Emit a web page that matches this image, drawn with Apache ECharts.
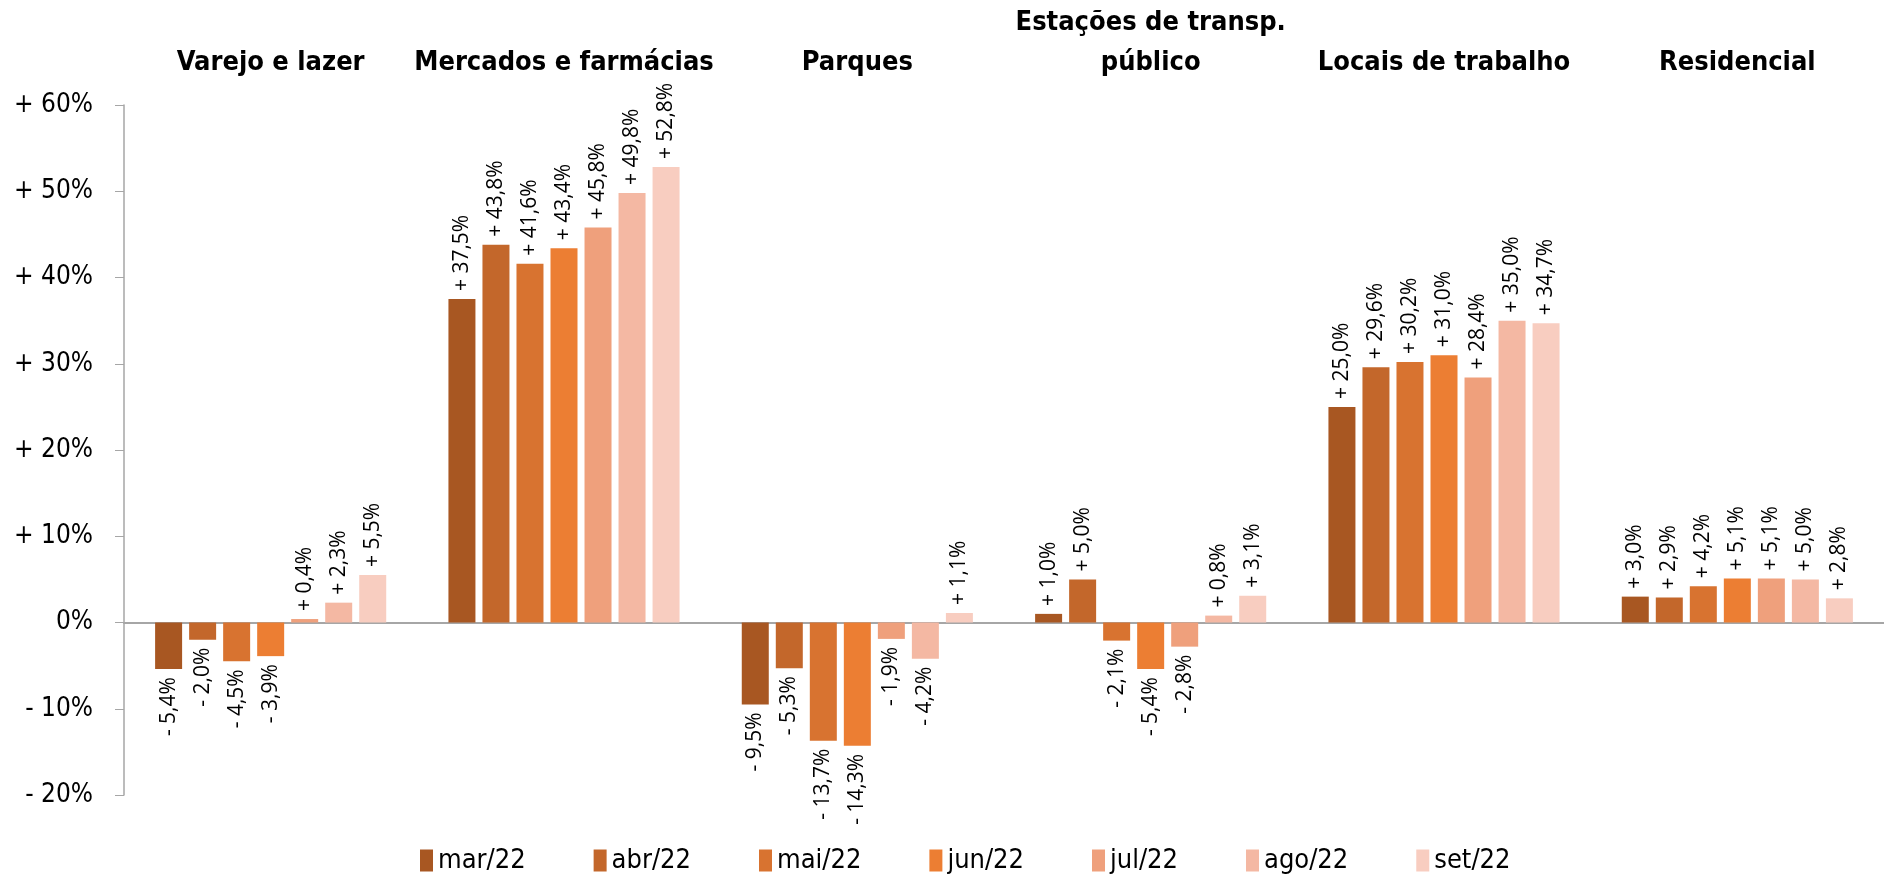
<!DOCTYPE html>
<html>
<head>
<meta charset="utf-8">
<script src="https://cdn.jsdelivr.net/npm/echarts@6/dist/echarts.min.js"></script>
<style>
  html, body { margin: 0; padding: 0; background: #fff; }
  #main { width: 1884px; height: 881px; }
</style>
</head>
<body>
<div id="main"></div>
<script>
// categorias (títulos no topo)
const categories = ['Varejo e lazer', 'Mercados e farmácias', 'Parques', 'Estações de transp.\npúblico', 'Locais de trabalho', 'Residencial'];
const months = ['mar/22', 'abr/22', 'mai/22', 'jun/22', 'jul/22', 'ago/22', 'set/22'];
const colors = ['#A85722', '#C3672B', '#D87330', '#EC7E33', '#EFA07C', '#F4B8A3', '#F8CDC0'];

// valores por mês (%), na ordem das categorias
const mar22 = [-5.4, 37.5, -9.5, 1.0, 25.0, 3.0];
const abr22 = [-2.0, 43.8, -5.3, 5.0, 29.6, 2.9];
const mai22 = [-4.5, 41.6, -13.7, -2.1, 30.2, 4.2];
const jun22 = [-3.9, 43.4, -14.3, -5.4, 31.0, 5.1];
const jul22 = [0.4, 45.8, -1.9, -2.8, 28.4, 5.1];
const ago22 = [2.3, 49.8, -4.2, 0.8, 35.0, 5.0];
const set22 = [5.5, 52.8, 1.1, 3.1, 34.7, 2.8];
const seriesValues = [mar22, abr22, mai22, jun22, jul22, ago22, set22];

const narrow = "'Liberation Sans Narrow', 'DejaVu Sans Condensed', 'Liberation Sans', sans-serif";

function fmtPct(v) {
  const s = Math.abs(v).toFixed(1).replace('.', ',') + '%';
  return (v < 0 ? '- ' : '+ ') + s;
}

const series = seriesValues.map((vals, i) => ({
  name: months[i],
  type: 'bar',
  barWidth: 27,
  barGap: '26%',
  itemStyle: { color: colors[i] },
  data: vals.map(v => ({
    value: v,
    label: v < 0
      ? { position: 'bottom', align: 'right' }
      : { position: 'top', align: 'left' }
  })),
  label: {
    show: true,
    rotate: 90,
    distance: 8,
    verticalAlign: 'middle',
    fontFamily: "'Open Sans', sans-serif",
    fontSize: 21,
    color: '#000',
    formatter: p => fmtPct(p.value)
  }
}));

const chart = echarts.init(document.getElementById('main'));
chart.setOption({
  animation: false,
  grid: { left: 124, right: 0, top: 105, bottom: 86, containLabel: false },
  legend: {
    data: months,
    top: 842,
    left: 415,
    itemWidth: 13,
    itemHeight: 22,
    itemGap: 68,
    icon: 'rect',
    textStyle: { fontFamily: narrow, fontSize: 27, color: '#000' }
  },
  xAxis: [
    {
      type: 'category',
      data: categories,
      axisLine: { onZero: true, lineStyle: { color: '#A6A6A6', width: 2 } },
      axisTick: { show: false },
      axisLabel: { show: false }
    },
    {
      type: 'category',
      data: categories,
      position: 'top',
      axisLine: { show: false },
      axisTick: { show: false },
      axisLabel: {
        interval: 0,
        margin: 22,
        fontFamily: narrow,
        fontWeight: 'bold',
        fontSize: 27,
        lineHeight: 40,
        color: '#000'
      }
    }
  ],
  yAxis: {
    type: 'value',
    min: -20,
    max: 60,
    interval: 10,
    splitLine: { show: false },
    axisLine: { show: true, lineStyle: { color: '#A6A6A6', width: 1.5 } },
    axisTick: { show: true, length: 9, lineStyle: { color: '#A6A6A6' } },
    axisLabel: {
      margin: 31,
      fontFamily: narrow,
      fontSize: 26,
      color: '#000',
      formatter: v => v === 0 ? '0%' : (v > 0 ? '+ ' + v + '%' : '- ' + Math.abs(v) + '%')
    }
  },
  series: series
});
</script>
</body>
</html>
